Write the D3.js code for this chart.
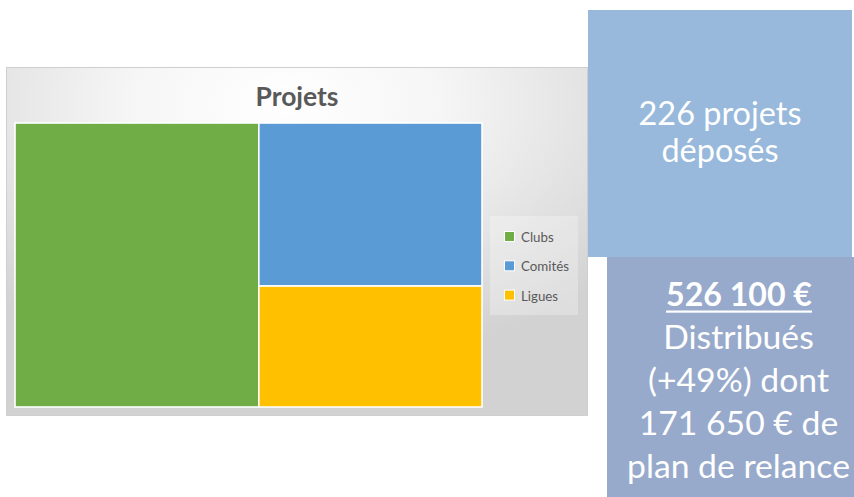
<!DOCTYPE html>
<html>
<head>
<meta charset="utf-8">
<script src="https://cdn.jsdelivr.net/npm/d3@7"></script>
<style>
  html, body { margin: 0; padding: 0; background: #ffffff; }
  svg { display: block; }
</style>
</head>
<body>
<script>
// ---- data ----
const title = "Projets";
const categories = ["Clubs", "Comités", "Ligues"];
const values = [118, 62, 46];
const colors = ["#70AD47", "#5B9BD5", "#FFC000"];
const box1Lines = ["226 projets", "déposés"];
const box2Head = "526 100 €";
const box2Lines = ["Distribués", "(+49%) dont", "171 650 € de", "plan de relance"];

const W = 854, H = 497;
const FONT = "Lato, 'Open Sans', sans-serif";

const svg = d3.select("body").append("svg").attr("width", W).attr("height", H);
const defs = svg.append("defs");

// fit text font size so rendered width matches target width
function fitText(sel, target) {
  let fs = 20;
  sel.attr("font-size", fs);
  const w = sel.node().getComputedTextLength();
  fs = fs * target / w;
  sel.attr("font-size", fs);
  return fs;
}

// ---- chart panel ----
const grad = defs.append("radialGradient").attr("id", "panelGrad")
  .attr("cx", "0.48").attr("cy", "0.1").attr("r", "0.75")
  .attr("fx", "0.48").attr("fy", "0.1");
grad.append("stop").attr("offset", "0").attr("stop-color", "#ffffff");
grad.append("stop").attr("offset", "0.35").attr("stop-color", "#f6f6f6");
grad.append("stop").attr("offset", "1").attr("stop-color", "#d2d2d2");

const panel = { x: 6.5, y: 67.5, w: 581, h: 348 };
svg.append("rect")
  .attr("x", panel.x).attr("y", panel.y).attr("width", panel.w).attr("height", panel.h)
  .attr("fill", "url(#panelGrad)").attr("stroke", "#cfcfcf").attr("stroke-width", 1);

// title
const t = svg.append("text").text(title)
  .attr("x", 297).attr("y", 106).attr("text-anchor", "middle")
  .attr("font-family", FONT).attr("font-weight", "bold").attr("fill", "#595959");
fitText(t, 83);

// ---- treemap ----
const plot = { x0: 15, y0: 123, x1: 482, y1: 407 };
const root = d3.hierarchy({ children: categories.map((c, i) => ({ name: c, value: values[i], color: colors[i] })) })
  .sum(d => d.value || 0)
  .sort((a, b) => b.value - a.value);

d3.treemap()
  .tile(d3.treemapSquarify.ratio(1))
  .size([plot.x1 - plot.x0, plot.y1 - plot.y0])
  .paddingInner(0)
  (root);

const g = svg.append("g").attr("transform", `translate(${plot.x0},${plot.y0})`);
g.selectAll("rect").data(root.leaves()).join("rect")
  .attr("x", d => d.x0).attr("y", d => d.y0)
  .attr("width", d => d.x1 - d.x0).attr("height", d => d.y1 - d.y0)
  .attr("fill", d => d.data.color)
  .attr("stroke", "#ffffff").attr("stroke-width", 1.6);

// ---- legend ----
svg.append("rect").attr("x", 490).attr("y", 216).attr("width", 88).attr("height", 99)
  .attr("fill", "#ffffff").attr("fill-opacity", 0.28);
const leg = svg.append("g");
const legItems = leg.selectAll("g").data(categories).join("g")
  .attr("transform", (d, i) => `translate(504,${231 + i * 29.3})`);
legItems.append("rect").attr("x", 0.5).attr("y", 0.5).attr("width", 10).attr("height", 10)
  .attr("fill", (d, i) => colors[i]).attr("stroke", "#ffffff").attr("stroke-width", 1);
const legTexts = legItems.append("text").text(d => d)
  .attr("x", 17).attr("y", 11)
  .attr("font-family", FONT).attr("fill", "#595959");
// fit based on the widest label
const legFs = fitText(d3.select(legTexts.nodes()[1]), 48);
legTexts.attr("font-size", legFs);

// ---- right boxes ----
svg.append("rect").attr("x", 588).attr("y", 10).attr("width", 264).attr("height", 247)
  .attr("fill", "#98B9DB");
svg.append("rect").attr("x", 607).attr("y", 257).attr("width", 247).attr("height", 240)
  .attr("fill", "#98AACB");

// box 1 text
const b1 = svg.append("g").attr("font-family", FONT).attr("fill", "#ffffff").attr("text-anchor", "middle");
const b1t = b1.selectAll("text").data(box1Lines).join("text").text(d => d)
  .attr("x", 720).attr("y", (d, i) => 125 + i * 37);
const b1fs = fitText(d3.select(b1t.nodes()[0]), 163);
b1t.attr("font-size", b1fs);

// box 2 text
const b2 = svg.append("g").attr("font-family", FONT).attr("fill", "#ffffff").attr("text-anchor", "middle");
const head = b2.append("text").text(box2Head).attr("x", 739).attr("y", 305.5).attr("font-weight", "bold");
fitText(head, 146);
const hw = head.node().getComputedTextLength();
b2.append("rect").attr("x", 739 - hw / 2).attr("y", 310.5).attr("width", hw).attr("height", 2.2).attr("fill", "#ffffff");

const b2t = b2.selectAll("text.l").data(box2Lines).join("text").attr("class", "l").text(d => d)
  .attr("x", 738.5).attr("y", (d, i) => 349 + i * 43.1);
const b2fs = fitText(d3.select(b2t.nodes()[3]), 223);
b2t.attr("font-size", b2fs);
</script>
</body>
</html>
